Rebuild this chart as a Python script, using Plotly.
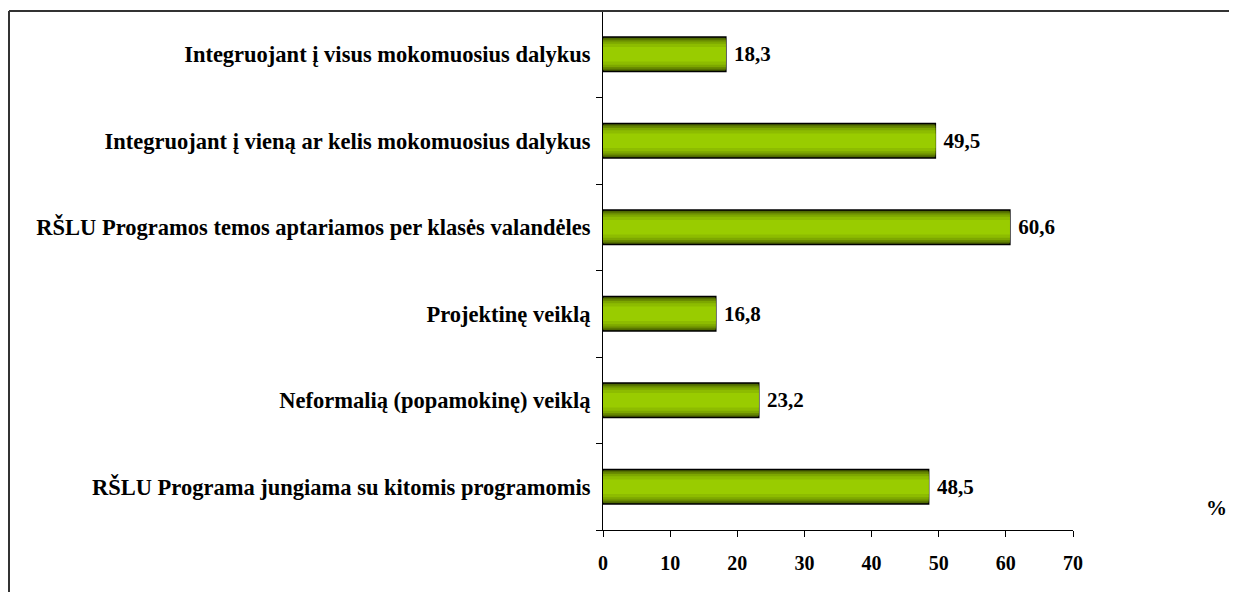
import plotly.graph_objects as go

categories = [
    "Integruojant į visus mokomuosius dalykus",
    "Integruojant į vieną ar kelis mokomuosius dalykus",
    "RŠLU Programos temos aptariamos per klasės valandėles",
    "Projektinę veiklą",
    "Neformalią (popamokinę) veiklą",
    "RŠLU Programa jungiama su kitomis programomis",
]
values = [18.3, 49.5, 60.6, 16.8, 23.2, 48.5]
x_ticks = [0, 10, 20, 30, 40, 50, 60, 70]

labels = [" " + f"{v:.1f}".replace(".", ",") for v in values]
FONT = "Liberation Serif, Times New Roman, serif"

fig = go.Figure()
# layered bars to imitate the vertical gradient (dark edges, bright centre)
layers = [
    (0.40, "#3f5300"),
    (0.37, "#557000"),
    (0.335, "#6a8c00"),
    (0.295, "#7da700"),
    (0.245, "#8dbc00"),
    (0.17, "#99cc00"),
]
for i, (w, c) in enumerate(layers):
    first = i == 0
    fig.add_trace(go.Bar(
        x=values, y=categories, orientation="h", width=w,
        marker=dict(color=c,
                    line=dict(color="black", width=1.5 if first else 0)),
        text=labels if first else None,
        textposition="outside" if first else "none",
        textfont=dict(family=FONT, size=21, color="black", weight="bold"),
        cliponaxis=False, showlegend=False, hoverinfo="skip",
    ))

# figure placed at (8, 8) by page body margin; sized to avoid scrollbars
W, H = 1221, 584
L, T, B = 595, 3, 62
R = W - L - 470
fig.update_layout(
    width=W, height=H,
    barmode="overlay",
    paper_bgcolor="white", plot_bgcolor="white",
    margin=dict(l=L, r=R, t=T, b=B, autoexpand=False),
    font=dict(family=FONT, size=20, color="black"),
    xaxis=dict(
        range=[0, 70], tickvals=x_ticks, showgrid=False, zeroline=False,
        showline=True, linecolor="black", linewidth=1,
        ticks="outside", ticklen=6, tickcolor="black",
        tickfont=dict(family=FONT, size=20, color="black", weight="bold"),
        ticklabelstandoff=9,
    ),
    yaxis=dict(
        categoryorder="array", categoryarray=categories[::-1],
        showgrid=False, zeroline=False,
        showline=True, linecolor="black", linewidth=1,
        ticks="outside", ticklen=6, tickcolor="black", tickson="boundaries",
        tickfont=dict(family=FONT, size=22.5, color="black", weight="bold"),
        ticklabelstandoff=7,
    ),
)

pw, ph = W - L - R, H - T - B
def px(xs):
    return (xs - 8 - L) / pw
def py(ys):
    return (H - B + 8 - ys) / ph

fig.add_annotation(text="<b>%</b>", x=px(1216), y=py(508), xref="paper", yref="paper",
                   xanchor="center", yanchor="middle",
                   showarrow=False, font=dict(family=FONT, size=21))

# outer frame (left and top edges visible)
fig.add_shape(type="line", xref="paper", yref="paper",
              x0=px(9), x1=px(9), y0=py(600), y1=py(11),
              line=dict(color="#333333", width=2))
fig.add_shape(type="line", xref="paper", yref="paper",
              x0=px(9), x1=px(1237), y0=py(11), y1=py(11),
              line=dict(color="#333333", width=2))

fig.write_html("out.html")
